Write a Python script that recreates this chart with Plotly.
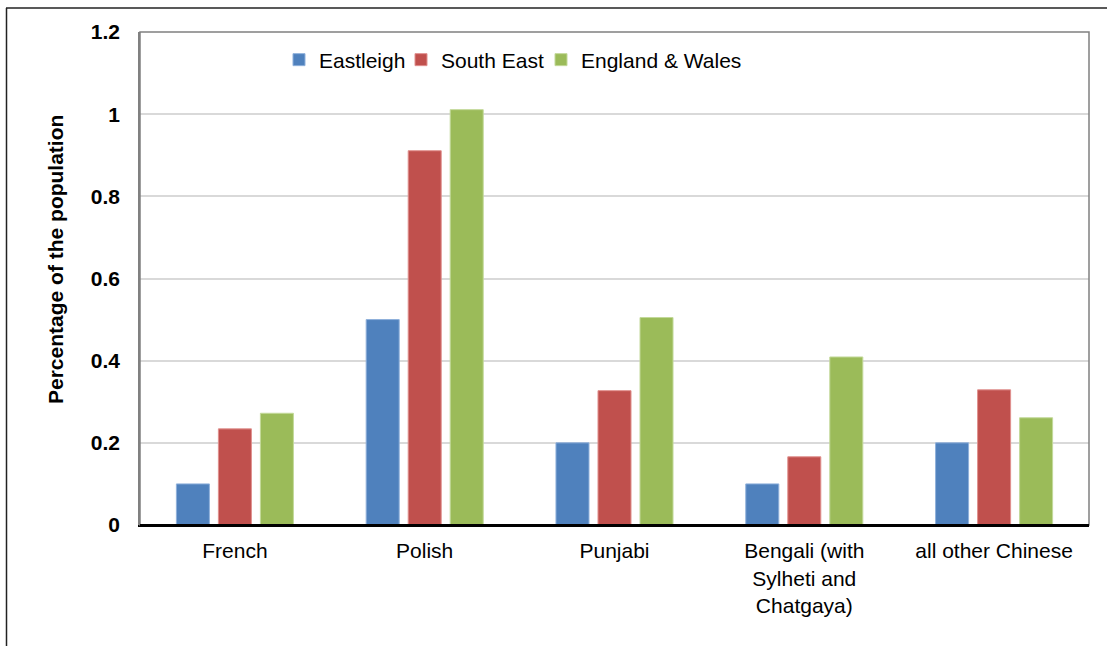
import plotly.graph_objects as go

categories = ["French", "Polish", "Punjabi", "Bengali (with<br>Sylheti and<br>Chatgaya)", "all other Chinese"]
eastleigh = [0.1, 0.5, 0.2, 0.1, 0.2]
south_east = [0.234, 0.911, 0.327, 0.166, 0.329]
england_wales = [0.272, 1.011, 0.505, 0.409, 0.261]
series_names = ["Eastleigh", "South East", "England & Wales"]
colors = ["#4F81BD", "#C0504D", "#9BBB59"]
edge_colors = ["#8fb0db", "#e0908e", "#c3d99a"]
y_ticks = [0, 0.2, 0.4, 0.6, 0.8, 1, 1.2]
y_title = "Percentage of the population"

FONT = "Liberation Sans, Arial, sans-serif"
FS = 21

W, H = 1107, 646
L, R, T, B = 140, 1089, 32, 525
pw, ph = R - L, B - T

def px_x(x):
    return (x - L) / pw

def px_y(y):
    return (B - y) / ph

legend_ids = ["legend", "legend2", "legend3"]
legend_px = [279, 401, 541]

fig = go.Figure()
for name, vals, c, ec, lid in zip(series_names, [eastleigh, south_east, england_wales], colors, edge_colors, legend_ids):
    fig.add_trace(go.Bar(x=categories, y=vals, name=name, legend=lid,
                         marker=dict(color=c, line=dict(color=ec, width=1))))

legend_layout = {}
for lid, lx in zip(legend_ids, legend_px):
    legend_layout[lid] = dict(orientation="h", x=px_x(lx), y=px_y(60), xanchor="left", yanchor="middle",
                              font=dict(family=FONT, size=FS, color="black"),
                              bgcolor="rgba(0,0,0,0)", itemwidth=30)

fig.update_layout(
    width=W, height=H,
    margin=dict(l=L, r=W - R, t=T, b=H - B, pad=0),
    paper_bgcolor="white", plot_bgcolor="white",
    barmode="group", bargap=0.336, bargroupgap=0.214,
    font=dict(family=FONT, size=FS, color="black"),
    showlegend=True,
    **legend_layout,
    xaxis=dict(showline=True, linecolor="black", linewidth=2, showgrid=False,
               tickfont=dict(family=FONT, size=FS, color="black"),
               ticks="", ticklabelstandoff=6, zeroline=False, fixedrange=True),
    yaxis=dict(range=[0, 1.2], tickvals=y_ticks, ticktext=[f"{v:g}" for v in y_ticks],
               showline=True, linecolor="#808080", linewidth=1.5,
               showgrid=True, gridcolor="#d9d9d9", gridwidth=1.5,
               tickfont=dict(family=FONT, size=FS, color="black", weight="bold"),
               ticks="", ticklabelstandoff=14, zeroline=False, fixedrange=True),
    shapes=[
        dict(type="rect", xref="paper", yref="paper", x0=0, x1=1, y0=0, y1=1,
             line=dict(color="#808080", width=1.5), layer="above"),
        dict(type="line", xref="paper", yref="paper", x0=0, x1=1, y0=0, y1=0,
             line=dict(color="black", width=2), layer="above"),
        dict(type="line", xref="paper", yref="paper", x0=px_x(6), x1=px_x(1107), y0=px_y(8), y1=px_y(8),
             line=dict(color="#222222", width=1.5)),
        dict(type="line", xref="paper", yref="paper", x0=px_x(6.5), x1=px_x(6.5), y0=px_y(8), y1=px_y(646),
             line=dict(color="#222222", width=1.5)),
    ],
    annotations=[
        dict(text=y_title, xref="paper", yref="paper", x=px_x(55), y=px_y(260),
             textangle=-90, showarrow=False, xanchor="center", yanchor="middle",
             font=dict(family=FONT, size=FS, color="black", weight="bold")),
    ],
)

fig.write_html("out.html", config={"displayModeBar": False},
               post_script="document.body.style.margin='0';document.body.style.overflow='hidden';")
